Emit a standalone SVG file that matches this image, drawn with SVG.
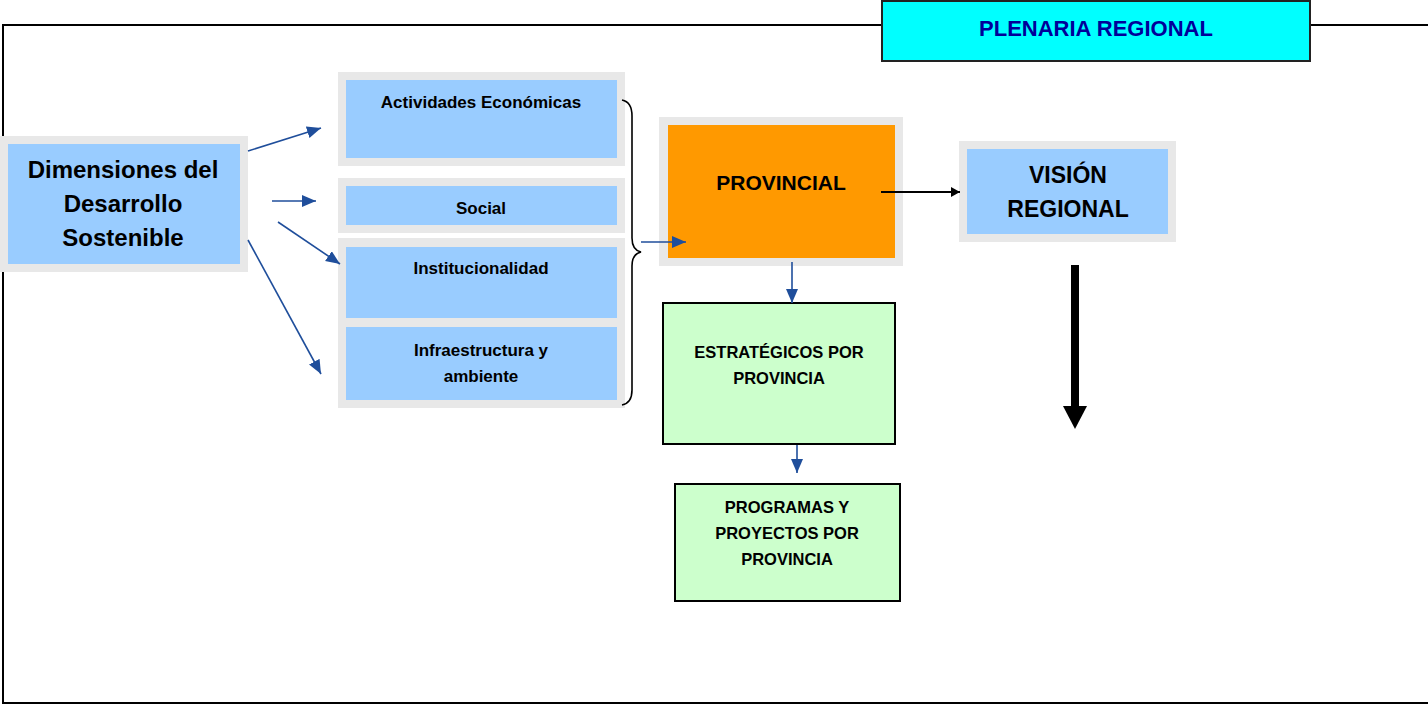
<svg xmlns="http://www.w3.org/2000/svg" width="1428" height="707" viewBox="0 0 1428 707">
<defs>
<style>
.t{font-family:"Liberation Sans",Arial,sans-serif;font-weight:bold;fill:#000;text-anchor:middle}
.outer{fill:#E8E8E8}
.blue{fill:#99CCFF}
.green{fill:#CCFFCC;stroke:#000;stroke-width:2}
.ba{stroke:#1F4E9B;stroke-width:1.6;fill:none}
</style>
<marker id="bh" markerUnits="userSpaceOnUse" markerWidth="15" markerHeight="13" refX="14" refY="6" orient="auto">
<path d="M0,0 L14,6 L0,12 z" fill="#1F4E9B"/>
</marker>
<marker id="kh" markerUnits="userSpaceOnUse" markerWidth="10" markerHeight="12" refX="9" refY="5" orient="auto">
<path d="M0,0 L9,5 L0,10 z" fill="#000"/>
</marker>
</defs>
<rect width="1428" height="707" fill="#fff"/>
<path d="M1430,25 H3 V703 H1430" fill="none" stroke="#000" stroke-width="2"/>
<g id="plenaria">
<rect x="882" y="1" width="428" height="60" fill="#00FFFF" stroke="#222" stroke-width="2"/>
<text class="t" x="1096" y="36" font-size="22" style="fill:#000099">PLENARIA REGIONAL</text>
</g>
<g id="dimensiones">
<rect class="outer" x="0" y="136" width="248" height="136"/>
<rect class="blue" x="8" y="144" width="232" height="120"/>
<text class="t" x="123" y="178" font-size="24">Dimensiones del</text>
<text class="t" x="123" y="212" font-size="24">Desarrollo</text>
<text class="t" x="123" y="246" font-size="24">Sostenible</text>
</g>
<g id="actividades">
<rect class="outer" x="338" y="72" width="287" height="94"/>
<rect class="blue" x="346" y="80" width="271" height="78"/>
<text class="t" x="481" y="108" font-size="17">Actividades Económicas</text>
</g>
<g id="social">
<rect class="outer" x="338" y="178" width="287" height="55"/>
<rect class="blue" x="346" y="186" width="271" height="39"/>
<text class="t" x="481" y="214" font-size="17">Social</text>
</g>
<rect class="outer" x="338" y="238" width="287" height="170"/>
<g id="institucionalidad">
<rect class="blue" x="346" y="247" width="271" height="71"/>
<text class="t" x="481" y="274" font-size="17">Institucionalidad</text>
</g>
<g id="infraestructura">
<rect class="blue" x="346" y="327" width="271" height="73"/>
<text class="t" x="481" y="356" font-size="17">Infraestructura y</text>
<text class="t" x="481" y="382" font-size="17">ambiente</text>
</g>
<g id="brace">
<path d="M622,100 Q632,102 632,116 V238 Q632,250 641,252 Q632,254 632,266 V390 Q632,403 622,405" fill="none" stroke="#000" stroke-width="1.6"/>
</g>
<g id="provincial">
<rect class="outer" x="659" y="117" width="244" height="149"/>
<rect x="668" y="125" width="227" height="133" fill="#FF9900"/>
<text class="t" x="781" y="190" font-size="21">PROVINCIAL</text>
</g>
<g id="vision">
<rect class="outer" x="959" y="141" width="217" height="101"/>
<rect class="blue" x="967" y="149" width="201" height="85"/>
<text class="t" x="1068" y="183" font-size="23">VISIÓN</text>
<text class="t" x="1068" y="217" font-size="23">REGIONAL</text>
</g>
<g id="estrategicos">
<rect class="green" x="663" y="303" width="232" height="141"/>
<text class="t" x="779" y="358" font-size="16.5">ESTRATÉGICOS POR</text>
<text class="t" x="779" y="384" font-size="16.5">PROVINCIA</text>
</g>
<g id="programas">
<rect class="green" x="675" y="484" width="225" height="117"/>
<text class="t" x="787" y="513" font-size="16.5">PROGRAMAS Y</text>
<text class="t" x="787" y="539" font-size="16.5">PROYECTOS POR</text>
<text class="t" x="787" y="565" font-size="16.5">PROVINCIA</text>
</g>
<g id="connectors">
<line class="ba" x1="248" y1="151" x2="321" y2="128" marker-end="url(#bh)"/>
<line class="ba" x1="272" y1="201" x2="316" y2="201" marker-end="url(#bh)"/>
<line class="ba" x1="278" y1="222" x2="340" y2="264" marker-end="url(#bh)"/>
<line class="ba" x1="248" y1="240" x2="321" y2="374" marker-end="url(#bh)"/>
<line class="ba" x1="641" y1="242" x2="686" y2="242" marker-end="url(#bh)"/>
<line class="ba" x1="792" y1="262" x2="792" y2="303" marker-end="url(#bh)"/>
<line class="ba" x1="797" y1="445" x2="797" y2="473" marker-end="url(#bh)"/>
<line x1="881" y1="192" x2="960" y2="192" stroke="#000" stroke-width="2" marker-end="url(#kh)"/>
<rect x="1071" y="265" width="8" height="142" fill="#000"/>
<path d="M1063,406 L1087,406 L1075,429 z" fill="#000"/>
</g>
</svg>
